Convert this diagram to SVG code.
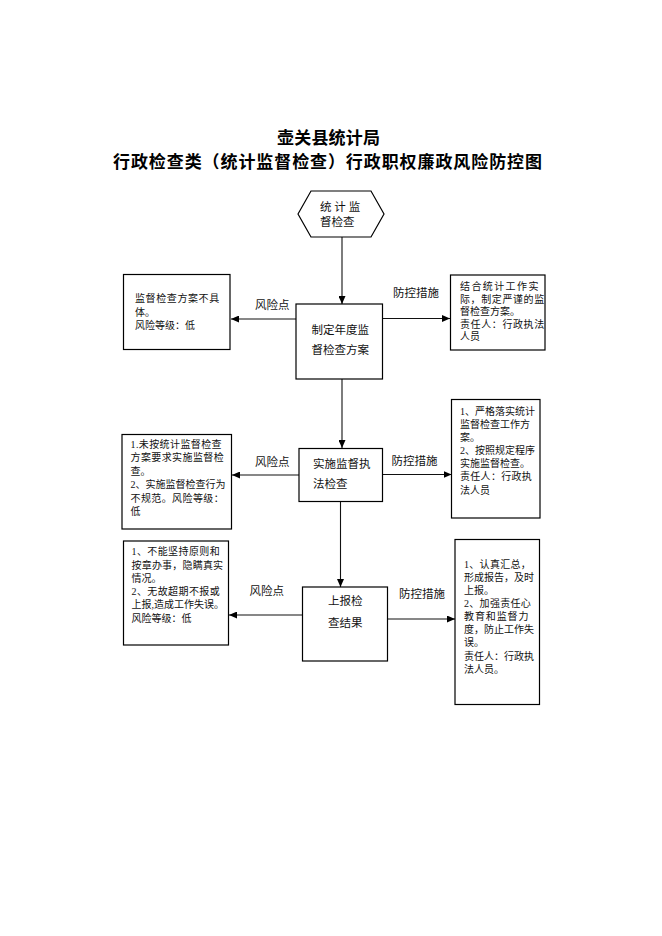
<svg xmlns="http://www.w3.org/2000/svg" width="662" height="936" viewBox="0 0 662 936">
<defs>
<marker id="ah" markerWidth="8" markerHeight="7" refX="8" refY="3.5" orient="auto" markerUnits="userSpaceOnUse">
<path d="M0,0 L8,3.5 L0,7 Z" fill="#000"/>
</marker>
<style>
.box{fill:#fff;stroke:#000;stroke-width:1.2}
.ln{fill:none;stroke:#111;stroke-width:1.1;marker-end:url(#ah)}
.t{font-family:"Liberation Serif","Noto Sans CJK SC",serif;font-size:10px;fill:#111}
.c{font-family:"Liberation Serif","Noto Sans CJK SC",serif;font-size:11.5px;fill:#111}
.lab{font-family:"Liberation Serif","Noto Sans CJK SC",serif;font-size:11.5px;fill:#111}
.title{font-family:"Noto Sans CJK SC",sans-serif;font-size:17px;font-weight:bold;fill:#000}
</style>
</defs>
<rect width="662" height="936" fill="#fff"/>
<g id="title">
<text class="title" x="277" y="144" textLength="103" lengthAdjust="spacing">壶关县统计局</text>
<text class="title" x="113" y="168" textLength="429" lengthAdjust="spacing">行政检查类（统计监督检查）行政职权廉政风险防控图</text>
</g>
<g id="connectors">
<path class="ln" d="M342,237 L342,304"/>
<path class="ln" d="M342,379 L342,448"/>
<path class="ln" d="M340.5,502 L340.5,587"/>
<path class="ln" d="M296,319 L231,319"/>
<path class="ln" d="M383,318.5 L450,318.5"/>
<path class="ln" d="M299,475 L232,475"/>
<path class="ln" d="M383,474.5 L451.5,474.5"/>
<path class="ln" d="M302.5,615 L229,615"/>
<path class="ln" d="M387.5,619 L455,619"/>
<text class="lab" x="255" y="309">风险点</text>
<text class="lab" x="393" y="297">防控措施</text>
<text class="lab" x="255" y="466">风险点</text>
<text class="lab" x="391.5" y="465">防控措施</text>
<text class="lab" x="249.5" y="595">风险点</text>
<text class="lab" x="399" y="598">防控措施</text>
</g>
<g id="start">
<polygon class="box" points="298,214 311,191 371,191 384,214 371,237 311,237"/>
<text class="c" x="320" y="211">统 计 监</text>
<text class="c" x="320" y="225.5">督检查</text>
</g>
<g id="step1">
<rect class="box" x="296" y="304" width="86.5" height="75"/>
<text class="c" x="311.5" y="334">制定年度监</text>
<text class="c" x="311.5" y="353.5">督检查方案</text>
</g>
<g id="risk1">
<rect class="box" x="123.5" y="274.5" width="106.5" height="75"/>
<text class="t" x="135" y="302" letter-spacing="0.6">监督检查方案不具</text>
<text class="t" x="135" y="315.5">体。</text>
<text class="t" x="135" y="329">风险等级：低</text>
</g>
<g id="measure1">
<rect class="box" x="450.5" y="275" width="94.5" height="75"/>
<text class="t" x="460" y="290.2" letter-spacing="1.4">结合统计工作实</text>
<text class="t" x="460" y="302.8" letter-spacing="0.6">际，制定严谨的监</text>
<text class="t" x="460" y="315.2">督检查方案。</text>
<text class="t" x="460" y="327.8" letter-spacing="0.6">责任人：行政执法</text>
<text class="t" x="460" y="340.2">人员</text>
</g>
<g id="step2">
<rect class="box" x="299" y="448.5" width="83.5" height="53"/>
<text class="c" x="313" y="468">实施监督执</text>
<text class="c" x="313" y="488.3">法检查</text>
</g>
<g id="risk2">
<rect class="box" x="122" y="434.5" width="109.5" height="94.5"/>
<text class="t" x="130.5" y="447.5" letter-spacing="0.4">1.未按统计监督检查</text>
<text class="t" x="130.5" y="461" letter-spacing="0.4">方案要求实施监督检</text>
<text class="t" x="130.5" y="474.5">查。</text>
<text class="t" x="130.5" y="488">2、实施监督检查行为</text>
<text class="t" x="130.5" y="501.5" letter-spacing="0.4">不规范。风险等级：</text>
<text class="t" x="130.5" y="515">低</text>
</g>
<g id="measure2">
<rect class="box" x="451.5" y="399.5" width="88.5" height="118.5"/>
<text class="t" x="460" y="415.2">1、严格落实统计</text>
<text class="t" x="460" y="428.2">监督检查工作方</text>
<text class="t" x="460" y="441.2">案。</text>
<text class="t" x="460" y="454.3">2、按照规定程序</text>
<text class="t" x="460" y="467.3">实施监督检查。</text>
<text class="t" x="460" y="480.4" letter-spacing="0.3">责任人：行政执</text>
<text class="t" x="460" y="493.5">法人员</text>
</g>
<g id="step3">
<rect class="box" x="302.5" y="587" width="85" height="74"/>
<text class="c" x="328" y="605">上报检</text>
<text class="c" x="328" y="626.7">查结果</text>
</g>
<g id="risk3">
<rect class="box" x="123.5" y="541" width="105" height="104"/>
<text class="t" x="131.5" y="555.2" letter-spacing="0.4">1、不能坚持原则和</text>
<text class="t" x="131.5" y="568.5" letter-spacing="0.2">按章办事，隐瞒真实</text>
<text class="t" x="131.5" y="581.8">情况。</text>
<text class="t" x="131.5" y="595.1" letter-spacing="0.4">2、无故超期不报或</text>
<text class="t" x="131.5" y="608.4">上报,造成工作失误。</text>
<text class="t" x="131.5" y="621.7">风险等级：低</text>
</g>
<g id="measure3">
<rect class="box" x="455" y="539.5" width="84.5" height="165"/>
<text class="t" x="464" y="567.8" letter-spacing="0.3">1、认真汇总，</text>
<text class="t" x="464" y="580.9">形成报告，及时</text>
<text class="t" x="464" y="594">上报。</text>
<text class="t" x="464" y="607.1" letter-spacing="0.3">2、加强责任心</text>
<text class="t" x="464" y="620.2" letter-spacing="0.9">教育和监督力</text>
<text class="t" x="464" y="633.3">度，防止工作失</text>
<text class="t" x="464" y="646.4">误。</text>
<text class="t" x="464" y="659.5">责任人：行政执</text>
<text class="t" x="464" y="672.6">法人员。</text>
</g>
</svg>
